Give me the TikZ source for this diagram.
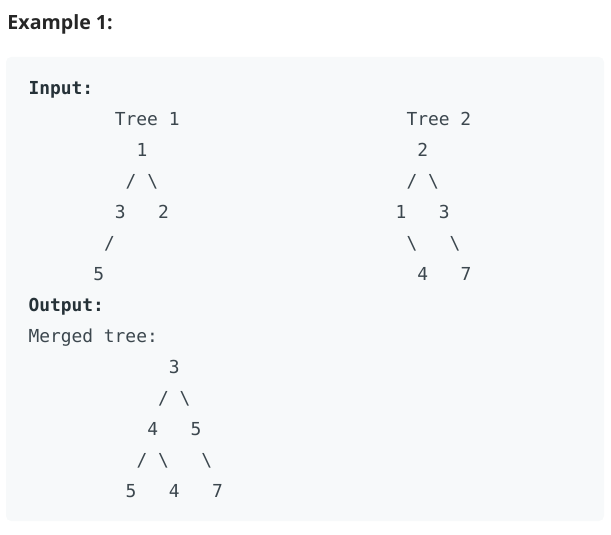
\documentclass[tikz,border=0pt]{standalone}
\usepackage{fontspec}
\setmainfont{Open Sans}
\setmonofont{DejaVu Sans Mono}
\usepackage{xcolor}
\usetikzlibrary{positioning}
\definecolor{headink}{HTML}{262626}
\definecolor{codeink}{HTML}{263238}
\definecolor{plainink}{HTML}{3C474E}
\definecolor{codebg}{HTML}{F7F9FA}

\begin{document}
\begin{tikzpicture}[x=1pt,y=-1pt,
  every node/.style={inner sep=0pt,outer sep=0pt,anchor=base west},
  code/.style={font=\ttfamily\fontsize{17.9}{20}\selectfont,text=plainink},
  label/.style={code,font=\ttfamily\bfseries\fontsize{17.9}{20}\selectfont,text=codeink}]
\useasboundingbox (0,0) rectangle (611,535);
\fill[codebg,rounded corners=5pt] (6,57) rectangle (604,521);
\node[font=\bfseries\fontsize{19.6}{22}\selectfont,text=headink] (head) at (7.5,29.5) {Example 1:};
% column c sits at 28.5+10.8c, row r at 95+30.92r
\node[label] (in) at (28.5,95) {Input:};
\node[code] (t1) at (114.9,125.9) {Tree 1};
\node[code] (t2) at (406.5,125.9) {Tree 2};
% tree 1
\node[code] (a1) at (136.5,156.8) {1};
\node[code] (a1l) at (125.7,187.8) {/};
\node[code] (a1r) at (147.3,187.8) {\textbackslash};
\node[code] (a3) at (114.9,218.7) {3};
\node[code] (a2) at (158.1,218.7) {2};
\node[code] (a3l) at (104.1,249.6) {/};
\node[code] (a5) at (93.3,280.5) {5};
% tree 2
\node[code] (b2) at (417.3,156.8) {2};
\node[code] (b2l) at (406.5,187.8) {/};
\node[code] (b2r) at (428.1,187.8) {\textbackslash};
\node[code] (b1) at (395.7,218.7) {1};
\node[code] (b3) at (438.9,218.7) {3};
\node[code] (b1r) at (406.5,249.6) {\textbackslash};
\node[code] (b3r) at (449.7,249.6) {\textbackslash};
\node[code] (b4) at (417.3,280.5) {4};
\node[code] (b7) at (460.5,280.5) {7};
% output
\node[label] (out) at (28.5,311.4) {Output:};
\node[code] (mt) at (28.5,342.4) {Merged tree:};
\node[code] (m3) at (168.9,373.3) {3};
\node[code] (m3l) at (158.1,404.2) {/};
\node[code] (m3r) at (179.7,404.2) {\textbackslash};
\node[code] (m4) at (147.3,435.1) {4};
\node[code] (m5) at (190.5,435.1) {5};
\node[code] (m4l) at (136.5,466.0) {/};
\node[code] (m4r) at (158.1,466.0) {\textbackslash};
\node[code] (m5r) at (201.3,466.0) {\textbackslash};
\node[code] (n5) at (125.7,497) {5};
\node[code] (n4) at (168.9,497) {4};
\node[code] (n7) at (212.1,497) {7};
\end{tikzpicture}
\end{document}
